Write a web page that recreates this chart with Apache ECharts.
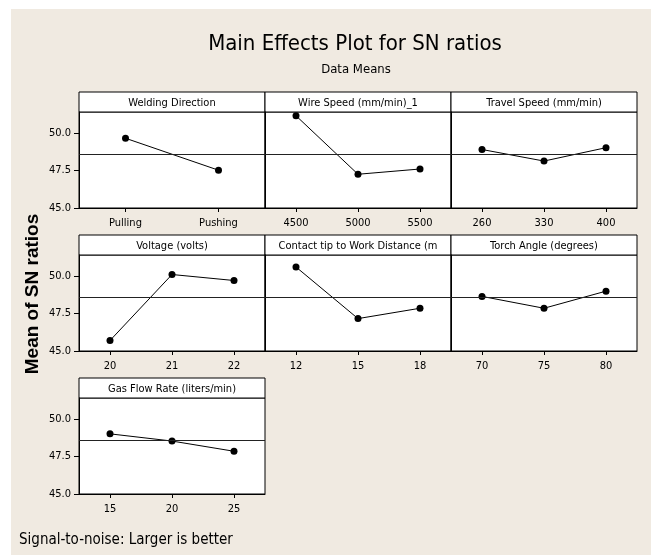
<!DOCTYPE html>
<html><head><meta charset="utf-8">
<script src="https://cdn.jsdelivr.net/npm/echarts@6/dist/echarts.min.js"></script>
<style>
html,body{margin:0;padding:0;background:#fff;}
#wrap{position:absolute;left:0;top:0;width:651px;height:555px;background:#fff;}
#c{position:absolute;left:11px;top:9px;width:640px;height:546px;}
</style>
</head><body><div id="wrap"><div id="c"></div></div><script>
// ---- data ----
const factorNames = ['Welding Direction','Wire Speed (mm/min)_1','Travel Speed (mm/min)','Voltage (volts)','Contact tip to Work Distance (m','Torch Angle (degrees)','Gas Flow Rate (liters/min)'];
const weldingLevels = ['Pulling','Pushing'];
const weldingMeans = [49.65, 47.52];
const wireLevels = ['4500','5000','5500'];
const wireMeans = [51.15, 47.25, 47.6];
const travelLevels = ['260','330','400'];
const travelMeans = [48.9, 48.13, 49.02];
const voltageLevels = ['20','21','22'];
const voltageMeans = [45.7, 50.1, 49.7];
const contactLevels = ['12','15','18'];
const contactMeans = [50.6, 47.16, 47.85];
const torchLevels = ['70','75','80'];
const torchMeans = [48.64, 47.85, 48.99];
const gasLevels = ['15','20','25'];
const gasMeans = [49.01, 48.53, 47.85];
const overallMean = 48.57;
const yTicks = [45, 47.5, 50];
const yMin = 45, yMax = 51.4;

const levelsList = [weldingLevels, wireLevels, travelLevels, voltageLevels, contactLevels, torchLevels, gasLevels];
const meansList = [weldingMeans, wireMeans, travelMeans, voltageMeans, contactMeans, torchMeans, gasMeans];

// ---- layout (chart coords, offset by wrapper) ----
const colLeft = [68, 254, 440];
const rowTop = [83, 226, 369];
const panelW = 186, headerH = 20, plotH = 96;
const FONT = '"DejaVu Sans Condensed", "Liberation Sans", sans-serif';

const grids = [], xAxes = [], yAxes = [], series = [], graphics = [];
for (let i = 0; i < 7; i++) {
  const r = Math.floor(i / 3), c = i % 3;
  const left = colLeft[c], top = rowTop[r];
  const isLeft = c === 0;
  grids.push({left: left, top: top + headerH, width: panelW, height: plotH, show: true,
    backgroundColor: '#fff', borderColor: '#000', borderWidth: 1, containLabel: false});
  xAxes.push({gridIndex: i, type: 'category', data: levelsList[i], boundaryGap: true,
    axisLine: {show: true, lineStyle: {color: '#000', width: 1}},
    axisTick: {show: true, alignWithLabel: true, length: 4, lineStyle: {color: '#000'}},
    axisLabel: {color: '#000', fontFamily: FONT, fontSize: 11, margin: 10}});
  yAxes.push({gridIndex: i, type: 'value', min: yMin, max: yMax, interval: 2.5,
    splitLine: {show: false},
    axisLine: {show: true, lineStyle: {color: '#000', width: 1}},
    axisTick: {show: isLeft, length: 5, customValues: yTicks, lineStyle: {color: '#000'}},
    axisLabel: {show: isLeft, customValues: yTicks, color: '#000', fontFamily: FONT, fontSize: 11, margin: 8,
      formatter: v => Number(v).toFixed(1)}});
  series.push({type: 'line', xAxisIndex: i, yAxisIndex: i, data: meansList[i],
    symbol: 'circle', symbolSize: 7, itemStyle: {color: '#000'},
    lineStyle: {color: '#000', width: 1}, animation: false, silent: true,
    markLine: {silent: true, symbol: 'none', label: {show: false},
      lineStyle: {color: '#222', width: 1, type: 'solid'}, data: [{yAxis: overallMean}]}});
  graphics.push({type: 'rect', shape: {x: left, y: top, width: panelW, height: headerH},
    style: {fill: '#fff', stroke: '#000', lineWidth: 1}});
  graphics.push({type: 'text', x: left + panelW / 2, y: top + headerH / 2 + 1,
    style: {text: factorNames[i], fill: '#000', font: '11px ' + FONT, textAlign: 'center', textVerticalAlign: 'middle'}});
}
graphics.push({type: 'text', x: 344, y: 35,
  style: {text: 'Main Effects Plot for SN ratios', fill: '#000', font: '22px ' + FONT, textAlign: 'center', textVerticalAlign: 'middle'}});
graphics.push({type: 'text', x: 345, y: 60.5,
  style: {text: 'Data Means', fill: '#000', font: '13px ' + FONT, textAlign: 'center', textVerticalAlign: 'middle'}});
graphics.push({type: 'text', x: 22, y: 285, rotation: Math.PI / 2,
  style: {text: 'Mean of SN ratios', fill: '#000', font: 'bold 19px "Liberation Sans", sans-serif', textAlign: 'center', textVerticalAlign: 'middle'}});
graphics.push({type: 'text', x: 8, y: 531,
  style: {text: 'Signal-to-noise: Larger is better', fill: '#000', font: '15px ' + FONT, textAlign: 'left', textVerticalAlign: 'middle'}});

const chart = echarts.init(document.getElementById('c'), null, {renderer: 'canvas'});
chart.setOption({
  backgroundColor: '#F0EAE1',
  animation: false,
  grid: grids, xAxis: xAxes, yAxis: yAxes, series: series,
  graphic: graphics
});
</script></body></html>
